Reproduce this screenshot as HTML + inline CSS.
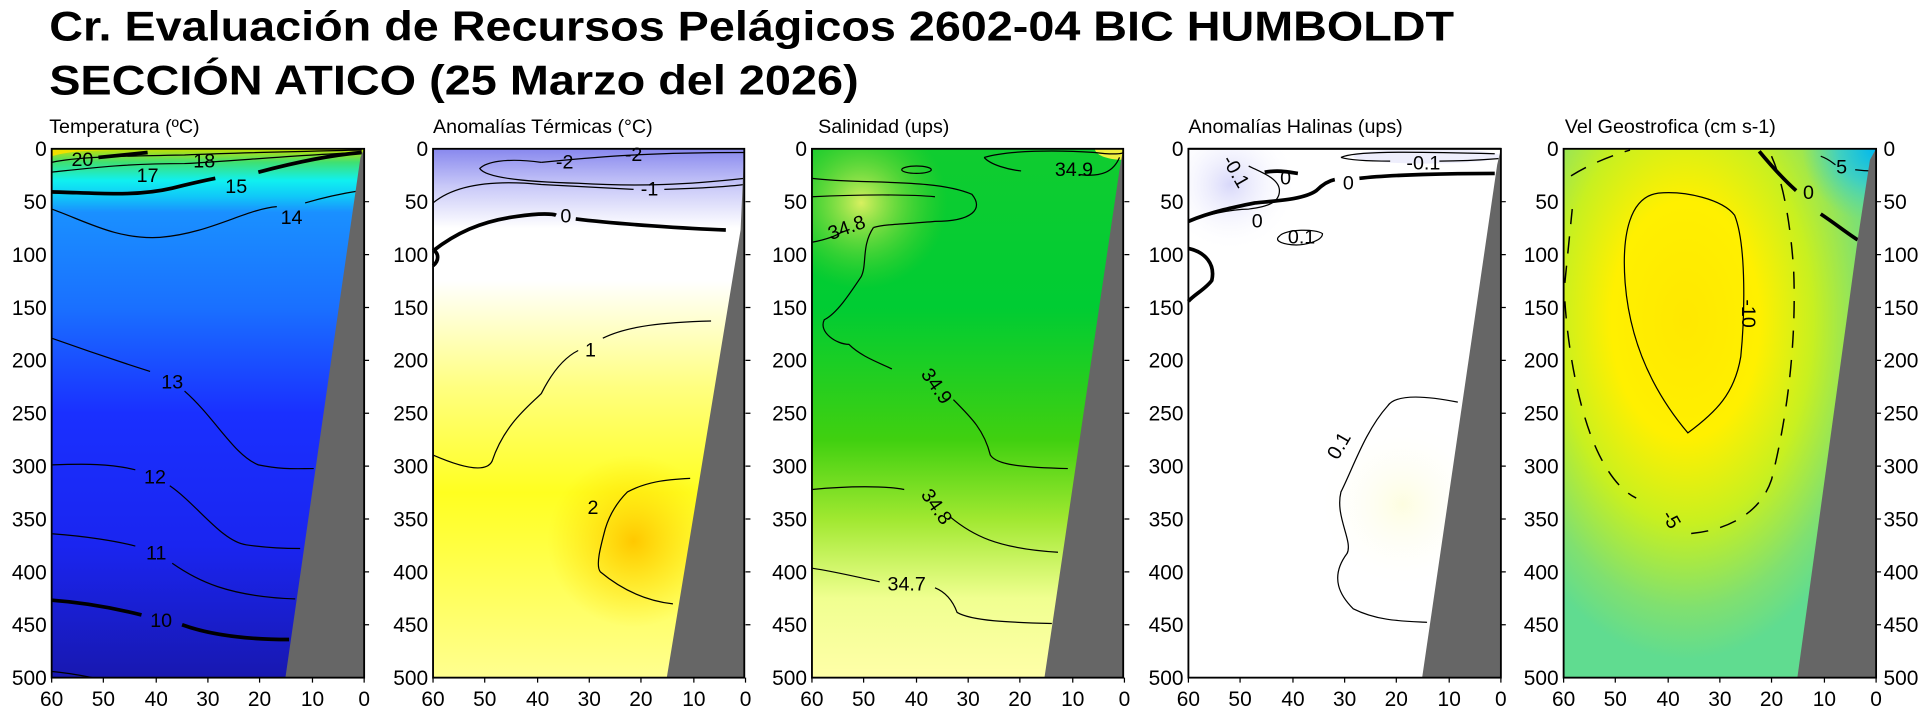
<!DOCTYPE html>
<html><head><meta charset="utf-8"><style>
html,body{margin:0;padding:0;background:#fff;}
svg{display:block;}
text{font-family:"Liberation Sans",Arial,sans-serif;}
</style></head><body>
<svg width="1929" height="717" viewBox="0 0 1568 583" preserveAspectRatio="none" xmlns="http://www.w3.org/2000/svg">
<defs>
<linearGradient id="gT" x1="0" y1="121" x2="0" y2="551" gradientUnits="userSpaceOnUse">
<stop offset="0" stop-color="#c8e000"/><stop offset="0.025" stop-color="#40e070"/><stop offset="0.06" stop-color="#10f0f0"/>
<stop offset="0.09" stop-color="#10c8f8"/><stop offset="0.12" stop-color="#1a90ff"/><stop offset="0.3" stop-color="#1a70ff"/>
<stop offset="0.5" stop-color="#1a30ff"/><stop offset="0.75" stop-color="#1a25f0"/><stop offset="1" stop-color="#1818b0"/>
</linearGradient>
<linearGradient id="gA" x1="0" y1="121" x2="0" y2="551" gradientUnits="userSpaceOnUse">
<stop offset="0" stop-color="#8888ee"/><stop offset="0.07" stop-color="#c8c8f8"/><stop offset="0.15" stop-color="#ffffff"/>
<stop offset="0.25" stop-color="#ffffff"/><stop offset="0.45" stop-color="#ffff80"/><stop offset="0.65" stop-color="#ffff20"/><stop offset="1" stop-color="#ffff90"/>
</linearGradient>
<radialGradient id="gAo" cx="515" cy="440" r="70" gradientUnits="userSpaceOnUse">
<stop offset="0" stop-color="#ffc800"/><stop offset="1" stop-color="#ffe000" stop-opacity="0"/>
</radialGradient>
<linearGradient id="gS" x1="0" y1="121" x2="0" y2="551" gradientUnits="userSpaceOnUse">
<stop offset="0" stop-color="#10cc30"/><stop offset="0.3" stop-color="#00cc33"/><stop offset="0.55" stop-color="#40d010"/>
<stop offset="0.7" stop-color="#a0e830"/><stop offset="0.85" stop-color="#f0ff90"/><stop offset="1" stop-color="#ffffa8"/>
</linearGradient>
<radialGradient id="gSy" cx="700" cy="165" r="70" gradientUnits="userSpaceOnUse">
<stop offset="0" stop-color="#d8f060"/><stop offset="1" stop-color="#60d020" stop-opacity="0"/>
</radialGradient>
<linearGradient id="gH" x1="0" y1="121" x2="0" y2="551" gradientUnits="userSpaceOnUse">
<stop offset="0" stop-color="#ffffff"/><stop offset="1" stop-color="#ffffff"/>
</linearGradient>
<radialGradient id="gHl" cx="1000" cy="150" r="55" gradientUnits="userSpaceOnUse">
<stop offset="0" stop-color="#d8d8fa"/><stop offset="1" stop-color="#ffffff" stop-opacity="0"/>
</radialGradient>
<radialGradient id="gHc" cx="1140" cy="410" r="70" gradientUnits="userSpaceOnUse">
<stop offset="0" stop-color="#fdfde0"/><stop offset="1" stop-color="#ffffff" stop-opacity="0"/>
</radialGradient>
<radialGradient id="gV" cx="1370" cy="260" r="230" gradientTransform="translate(1370 260) scale(0.75 1.2) translate(-1370 -260)" gradientUnits="userSpaceOnUse">
<stop offset="0" stop-color="#ffe800"/><stop offset="0.35" stop-color="#fff000"/><stop offset="0.6" stop-color="#c8f020"/>
<stop offset="0.85" stop-color="#80e070"/><stop offset="1" stop-color="#60dc90"/>
</radialGradient>
<radialGradient id="gVc" cx="1525" cy="121" r="60" gradientUnits="userSpaceOnUse">
<stop offset="0" stop-color="#00b8f0"/><stop offset="0.5" stop-color="#40d0c0"/><stop offset="1" stop-color="#60dca0" stop-opacity="0"/>
</radialGradient>
</defs>
<rect width="1568" height="583" fill="#fff"/>
<text x="40" y="33" font-size="34" font-weight="bold" textLength="1142" lengthAdjust="spacingAndGlyphs">Cr. Evaluación de Recursos Pelágicos 2602-04 BIC HUMBOLDT</text>
<text x="40" y="77" font-size="34" font-weight="bold" textLength="658" lengthAdjust="spacingAndGlyphs">SECCIÓN ATICO (25 Marzo del 2026)</text>

<g font-size="16">
<text x="40" y="108">Temperatura (ºC)</text>
<text x="352" y="108">Anomalías Térmicas (°C)</text>
<text x="665" y="108">Salinidad (ups)</text>
<text x="966" y="108">Anomalías Halinas (ups)</text>
<text x="1272" y="108">Vel Geostrofica (cm s-1)</text>
</g>

<!-- Panel 1 -->
<rect x="42" y="121" width="254" height="430" fill="url(#gT)"/>
<path d="M42,127 C60,122 80,122 120,122 L42,122Z" fill="#f0e000"/>
<g fill="none" stroke="#000" stroke-width="1">
<path d="M42,170 C70,180 95,195 130,193 C170,190 200,170 225,168 M248,165 C265,160 280,157 293,155"/>
<path d="M42,140 C70,137 100,133 150,133 C190,131 240,126 294,124"/>
<path d="M42,132 C60,128 90,127 150,126 C200,124 250,123 294,122"/>
<path d="M42,275 C70,285 100,295 122,302 M150,318 C175,340 190,370 210,378 C230,382 240,381 255,381"/>
<path d="M42,378 C70,377 90,377 110,382 M138,395 C160,410 180,440 200,443 C220,446 240,446 244,446"/>
<path d="M42,434 C70,436 95,440 110,444 M140,458 C160,472 185,485 240,487"/>
<path d="M42,546 C55,547 65,549 75,551"/>
</g>
<g fill="none" stroke="#000" stroke-width="3">
<path d="M42,156 C80,157 110,160 140,153 C160,148 170,146 175,145 M210,140 C240,132 270,126 294,124"/>
<path d="M42,488 C70,490 95,495 115,500 M148,508 C170,516 200,520 235,520"/>
<path d="M80,128 L120,124"/>
</g>
<g font-size="16" text-anchor="middle">
<text x="67" y="135">20</text><text x="166" y="136">18</text><text x="120" y="148">17</text>
<text x="192" y="157">15</text><text x="237" y="182">14</text><text x="140" y="316">13</text>
<text x="126" y="393">12</text><text x="127" y="455">11</text><text x="131" y="510">10</text>
</g>
<polygon points="232,551 293,128 296,121 296,551" fill="#666"/>

<!-- Panel 2 -->
<rect x="352" y="121" width="253" height="430" fill="url(#gA)"/>
<rect x="352" y="121" width="253" height="430" fill="url(#gAo)"/>
<g fill="none" stroke="#000" stroke-width="1">
<path d="M440,132 C410,128 395,132 390,137 C395,145 430,148 470,149 C520,152 560,150 605,145"/>
<path d="M440,132 C480,128 520,124 605,124"/>
<path d="M352,165 C370,150 400,146 440,150 C480,152 500,153 515,154 M540,154 C570,153 590,152 605,150"/>
<path d="M352,370 C375,380 395,385 400,375 C410,345 430,330 440,320 C450,300 460,290 470,285 M490,275 C510,265 540,262 578,261"/>
<path d="M561,389 C540,390 525,392 510,400 C500,410 495,420 492,430 C488,445 484,460 488,465 C500,475 520,488 547,491"/>
</g>
<g fill="none" stroke="#000" stroke-width="3">
<path d="M352,204 C370,190 390,180 420,176 C440,173 450,174 452,175 M468,178 C500,182 560,186 590,187"/>
<path d="M352,203 C357,206 357,212 352,216"/>
</g>
<g font-size="16" text-anchor="middle">
<text x="459" y="137">-2</text><text x="515" y="131">-2</text><text x="528" y="159">-1</text>
<text x="460" y="181">0</text><text x="480" y="290">1</text><text x="482" y="418">2</text>
</g>
<polygon points="542,551 602,187 605,121 605,551" fill="#666"/>

<!-- Panel 3 -->
<rect x="660" y="121" width="253" height="430" fill="url(#gS)"/>
<rect x="660" y="121" width="253" height="430" fill="url(#gSy)"/>
<path d="M890,121 L913,121 L913,130 C900,130 890,126 890,121Z" fill="#f0f040"/>
<g fill="none" stroke="#000" stroke-width="1">
<ellipse cx="745" cy="138" rx="12" ry="3"/>
<path d="M800,128 C820,122 860,122 890,124 C905,126 913,125 913,124"/>
<path d="M800,128 C805,134 820,138 830,139 M878,142 C895,144 905,140 910,128"/>
<path d="M660,145 C700,150 760,145 790,158 C800,170 790,180 760,180 C740,182 720,182 710,185"/>
<path d="M660,160 C700,158 740,158 760,160"/>
<path d="M660,197 C670,195 680,192 685,188"/>
<path d="M710,185 C700,200 705,215 700,225 C690,240 680,255 670,260 C665,270 680,280 690,280 C700,290 715,295 725,300 M775,325 C790,340 800,350 805,370 C810,378 830,380 868,381"/>
<path d="M660,398 C690,395 720,395 735,398 M772,420 C790,435 810,446 860,449"/>
<path d="M660,462 C680,465 700,470 715,473 M760,478 C770,482 775,490 778,498 C790,505 820,506 855,507"/>
</g>
<g font-size="16" text-anchor="middle">
<text x="873" y="143">34.9</text><text x="690" y="190" transform="rotate(-20 690 190)">34.8</text>
<text x="757" y="317" transform="rotate(55 757 317)">34.9</text><text x="757" y="415" transform="rotate(55 757 415)">34.8</text>
<text x="737" y="480">34.7</text>
</g>
<polygon points="849,551 910,138 913,121 913,551" fill="#666"/>

<!-- Panel 4 -->
<rect x="966" y="121" width="254" height="430" fill="#fff"/>
<rect x="966" y="121" width="254" height="430" fill="url(#gHl)"/>
<rect x="966" y="121" width="254" height="430" fill="url(#gHc)"/>
<ellipse cx="1160" cy="127" rx="60" ry="6" fill="#eeeefc"/>
<g fill="none" stroke="#000" stroke-width="1">
<path d="M1090,128 C1100,123 1140,123 1215,125 M1090,128 C1100,131 1120,131 1130,131 M1170,131 C1190,131 1205,130 1218,129"/>
<path d="M966,180 C980,175 1000,170 1015,170 C1030,168 1040,165 1040,155 C1040,145 1025,140 1015,135"/>
<path d="M1040,192 C1045,186 1070,186 1075,190 C1075,196 1060,200 1050,199 C1040,198 1036,195 1040,192Z"/>
<path d="M1185,327 C1160,322 1135,320 1128,330 C1110,350 1100,380 1090,400 C1085,420 1100,440 1095,450 C1080,470 1090,485 1100,495 C1120,505 1140,505 1160,506"/>
</g>
<g fill="none" stroke="#000" stroke-width="3">
<path d="M966,180 C985,172 1005,168 1020,165 C1040,163 1060,162 1070,155 C1075,150 1080,147 1085,146"/>
<path d="M1105,145 C1130,142 1180,141 1215,141"/>
<path d="M966,202 C980,205 988,215 985,228 C980,235 970,240 966,245"/>
<path d="M1028,140 C1040,138 1048,140 1055,141"/>
</g>
<g font-size="16" text-anchor="middle">
<text x="1000" y="142" transform="rotate(60 1000 142)">-0.1</text><text x="1045" y="150">0</text>
<text x="1157" y="138">-0.1</text><text x="1096" y="154">0</text><text x="1022" y="185">0</text>
<text x="1058" y="198">0.1</text><text x="1093" y="365" transform="rotate(-60 1093 365)">0.1</text>
</g>
<polygon points="1156,551 1217,134 1220,121 1220,551" fill="#666"/>
<line x1="966" y1="121" x2="1220" y2="121" stroke="#999" stroke-width="2"/>

<!-- Panel 5 -->
<rect x="1271" y="121" width="254" height="430" fill="url(#gV)"/>
<rect x="1271" y="121" width="254" height="430" fill="url(#gVc)"/>
<g fill="none" stroke="#000" stroke-width="1">
<path d="M1372,352 C1345,320 1325,280 1321,230 C1318,190 1325,160 1348,157 C1370,155 1400,162 1410,175 C1420,200 1418,260 1415,290 C1410,320 1395,335 1372,352Z"/>
</g>
<g fill="none" stroke="#000" stroke-width="1.2" stroke-dasharray="14 10">
<path d="M1277,143 C1290,135 1305,128 1325,122"/>
<path d="M1440,127 C1448,145 1455,175 1458,220 C1460,270 1455,330 1440,390 C1430,420 1400,432 1372,434"/>
<path d="M1272,245 C1275,290 1285,340 1300,370 C1310,390 1320,400 1330,405"/>
<path d="M1272,230 C1274,210 1276,190 1278,170"/>
</g>
<g fill="none" stroke="#000" stroke-width="3">
<path d="M1430,123 C1440,135 1452,148 1460,155 M1480,174 C1492,182 1502,190 1510,195"/>
</g>
<path d="M1480,127 C1488,130 1490,133 1492,134 M1508,138 C1515,139 1520,139 1523,139" fill="none" stroke="#000"/>
<g font-size="16" text-anchor="middle">
<text x="1497" y="141">5</text><text x="1470" y="162">0</text>
<text x="1416" y="255" transform="rotate(90 1416 255)">-10</text>
<text x="1354" y="425" transform="rotate(60 1354 425)">-5</text>
</g>
<polygon points="1461,551 1510,195 1520,130 1525,121 1525,551" fill="#666"/>

<!-- Axes -->
<g stroke="#000" stroke-width="1.5" fill="none">
<rect x="42" y="121" width="254" height="430"/>
<rect x="352" y="121" width="253" height="430"/>
<rect x="660" y="121" width="253" height="430"/>
<rect x="966" y="121" width="254" height="430"/>
<rect x="1271" y="121" width="254" height="430"/>
</g>
<g font-size="17" text-anchor="end">
<g id="yl1">
<text x="38" y="127">0</text><text x="38" y="170">50</text><text x="38" y="213">100</text><text x="38" y="256">150</text><text x="38" y="299">200</text><text x="38" y="342">250</text><text x="38" y="385">300</text><text x="38" y="428">350</text><text x="38" y="471">400</text><text x="38" y="514">450</text><text x="38" y="557">500</text>
</g>
<use href="#yl1" x="310"/><use href="#yl1" x="618"/><use href="#yl1" x="924"/><use href="#yl1" x="1229"/>
</g>
<g font-size="17" text-anchor="start">
<text x="1531" y="127">0</text><text x="1531" y="170">50</text><text x="1531" y="213">100</text><text x="1531" y="256">150</text><text x="1531" y="299">200</text><text x="1531" y="342">250</text><text x="1531" y="385">300</text><text x="1531" y="428">350</text><text x="1531" y="471">400</text><text x="1531" y="514">450</text><text x="1531" y="557">500</text>
</g>
<g font-size="17" text-anchor="middle">
<g id="xl1">
<text x="42" y="574">60</text><text x="84" y="574">50</text><text x="127" y="574">40</text><text x="169" y="574">30</text><text x="211" y="574">20</text><text x="254" y="574">10</text><text x="296" y="574">0</text>
</g>
<use href="#xl1" x="310"/><use href="#xl1" x="618"/><use href="#xl1" x="924"/><use href="#xl1" x="1229"/>
</g>
<g stroke="#000" stroke-width="1">
<g id="xt"><path d="M42,551v4M84,551v4M127,551v4M169,551v4M211,551v4M254,551v4M296,551v4"/>
<path d="M296,164h4M296,207h4M296,250h4M296,293h4M296,336h4M296,379h4M296,422h4M296,465h4M296,508h4"/></g>
<use href="#xt" x="310"/><use href="#xt" x="618"/><use href="#xt" x="924"/><use href="#xt" x="1229"/>
</g>
</svg>
</body></html>
